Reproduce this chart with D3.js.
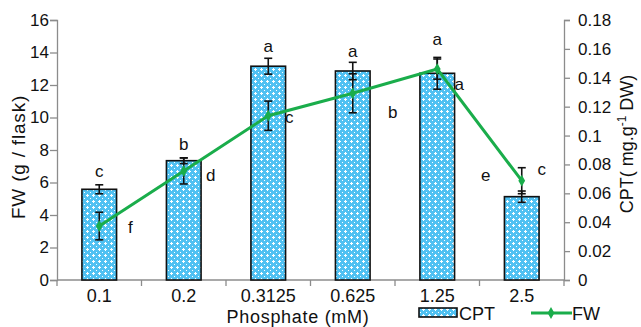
<!DOCTYPE html>
<html>
<head>
<meta charset="utf-8">
<script src="https://cdn.jsdelivr.net/npm/d3@7"></script>
<style>
  html, body { margin: 0; padding: 0; background: #fff; }
  svg { display: block; font-family: "Liberation Sans", Arial, sans-serif; }
</style>
</head>
<body>
<svg id="chart" width="641" height="327"></svg>
<script>
// Phosphate treatments (mM)
const categories = ["0.1", "0.2", "0.3125", "0.625", "1.25", "2.5"];
// CPT content (mg g-1 DW), bars, right axis
const cptValues = [0.0628, 0.0826, 0.148, 0.1447, 0.1431, 0.0577];
const cptErrors = [0.0031, 0.0020, 0.0055, 0.0060, 0.0110, 0.0039];
const cptLetters = ["c", "b", "a", "a", "a", "c"];
// Fresh weight (g / flask), line, left axis
const fwValues = [3.32, 6.71, 10.11, 11.49, 12.98, 6.11];
const fwErrors = [0.85, 0.80, 0.90, 1.20, 0.62, 0.80];
const fwLetters = ["f", "d", "c", "b", "a", "e"];
// Axis ticks
const leftTicks = [0, 2, 4, 6, 8, 10, 12, 14, 16];
const rightTicks = [0, 0.02, 0.04, 0.06, 0.08, 0.1, 0.12, 0.14, 0.16, 0.18];

const svg = d3.select("#chart");
const m = { left: 57, right: 564, top: 20, bottom: 280 };
const axisColor = "#8c8c8c";
const green = "#1aad4b";
const ink = "#111";

const x = d3.scaleBand().domain(categories).range([m.left, m.right]).paddingInner(0.59).paddingOuter(0.295);
const yL = d3.scaleLinear().domain([0, 16]).range([m.bottom, m.top]);
const yR = d3.scaleLinear().domain([0, 0.18]).range([m.bottom, m.top]);
const cx = d => x(d) + x.bandwidth() / 2;

// Bar fill: light blue with a white cross lattice
const defs = svg.append("defs");
const pat = defs.append("pattern").attr("id", "lattice")
  .attr("patternUnits", "userSpaceOnUse").attr("width", 6).attr("height", 6);
pat.append("rect").attr("width", 6).attr("height", 6).attr("fill", "#38b8f0");
pat.append("rect").attr("x", 2).attr("y", 3).attr("width", 3).attr("height", 1).attr("fill", "#ffffff");
pat.append("rect").attr("x", 3).attr("y", 2).attr("width", 1).attr("height", 3).attr("fill", "#ffffff");
pat.append("rect").attr("x", 0).attr("y", 0).attr("width", 1).attr("height", 1).attr("fill", "#ffffff");
pat.append("rect").attr("x", 0).attr("y", 0).attr("width", 6).attr("height", 6).attr("fill", "#ffffff").attr("opacity", 0.12);

// Axes
const axX = svg.append("g").attr("transform", `translate(0,${m.bottom})`);
axX.append("line").attr("x1", m.left).attr("x2", m.right).attr("stroke", axisColor).attr("stroke-width", 1.3);
const bounds = categories.map(c => x(c) - x.step() * x.paddingInner() / 2).concat([m.right]);
bounds[0] = m.left;
axX.selectAll("line.tk").data(bounds).join("line").attr("class", "tk")
  .attr("x1", d => d).attr("x2", d => d).attr("y1", 0).attr("y2", 6)
  .attr("stroke", axisColor).attr("stroke-width", 1.3);
axX.selectAll("text").data(categories).join("text")
  .attr("x", d => cx(d)).attr("y", 22).attr("text-anchor", "middle")
  .attr("font-size", 18).attr("fill", ink).text(d => d);

const axL = svg.append("g").attr("transform", `translate(${m.left},0)`)
  .call(d3.axisLeft(yL).tickValues(leftTicks).tickSize(7).tickPadding(1).tickFormat(d3.format("d")));
const axR = svg.append("g").attr("transform", `translate(${m.right},0)`)
  .call(d3.axisRight(yR).tickValues(rightTicks).tickSize(6).tickPadding(8).tickFormat(d => d === 0 ? "0" : String(+d.toFixed(2))));
[axL, axR].forEach(g => {
  g.selectAll("path.domain").attr("stroke", axisColor).attr("stroke-width", 1.3);
  g.selectAll(".tick line").attr("stroke", axisColor).attr("stroke-width", 1.3);
  g.selectAll(".tick text").attr("font-size", 17).attr("fill", ink)
    .attr("font-family", "Liberation Sans, Arial, sans-serif");
});

// Bars
svg.append("g").selectAll("rect").data(categories).join("rect")
  .attr("x", d => x(d)).attr("width", x.bandwidth())
  .attr("y", (d, i) => yR(cptValues[i]))
  .attr("height", (d, i) => yR(0) - yR(cptValues[i]))
  .attr("fill", "url(#lattice)").attr("stroke", ink).attr("stroke-width", 1.6);

// Error bar helper
function errorBars(g, yScale, vals, errs) {
  const cap = 4;
  categories.forEach((c, i) => {
    const xc = cx(c), y1 = yScale(vals[i] + errs[i]), y2 = yScale(vals[i] - errs[i]);
    g.append("line").attr("x1", xc).attr("x2", xc).attr("y1", y1).attr("y2", y2);
    g.append("line").attr("x1", xc - cap).attr("x2", xc + cap).attr("y1", y1).attr("y2", y1);
    g.append("line").attr("x1", xc - cap).attr("x2", xc + cap).attr("y1", y2).attr("y2", y2);
  });
}
const eg1 = svg.append("g").attr("stroke", ink).attr("stroke-width", 1.6);
errorBars(eg1, yR, cptValues, cptErrors);

// FW line
const line = d3.line().x((d, i) => cx(categories[i])).y(d => yL(d));
svg.append("path").datum(fwValues).attr("d", line)
  .attr("fill", "none").attr("stroke", green).attr("stroke-width", 3);
const eg2 = svg.append("g").attr("stroke", ink).attr("stroke-width", 1.6);
errorBars(eg2, yL, fwValues, fwErrors);
const diamond = d3.symbol().type(d3.symbolDiamond).size(40);
svg.append("g").selectAll("path").data(fwValues).join("path")
  .attr("d", diamond)
  .attr("transform", (d, i) => `translate(${cx(categories[i])},${yL(d)})`)
  .attr("fill", green);

// Significance letters
const lettersG = svg.append("g").attr("font-size", 17).attr("fill", ink).attr("text-anchor", "middle");
const barLetterShift = [[0, -8], [0, -8], [0, -6], [0, -5], [0, -12], [20, -16]];
categories.forEach((c, i) => {
  lettersG.append("text")
    .attr("x", cx(c) + barLetterShift[i][0])
    .attr("y", yR(cptValues[i] + cptErrors[i]) + barLetterShift[i][1])
    .text(cptLetters[i]);
});
const lineLetterShift = [[31, 7], [27, 10], [21, 7], [40, 25], [22, 21], [-36, 0]];
categories.forEach((c, i) => {
  lettersG.append("text")
    .attr("x", cx(c) + lineLetterShift[i][0])
    .attr("y", yL(fwValues[i]) + lineLetterShift[i][1])
    .text(fwLetters[i]);
});

// Axis titles
svg.append("text").attr("x", 298).attr("y", 323).attr("text-anchor", "middle")
  .attr("font-size", 18).attr("letter-spacing", 0.7).attr("fill", ink).text("Phosphate (mM)");
svg.append("text").attr("transform", "translate(25,157) rotate(-90)").attr("text-anchor", "middle")
  .attr("font-size", 19).attr("letter-spacing", 0.8).attr("fill", ink).text("FW (g / flask)");
const rt = svg.append("text").attr("transform", "translate(633,144) rotate(-90)").attr("text-anchor", "middle")
  .attr("font-size", 18).attr("fill", ink);
rt.append("tspan").text("CPT( mg.g");
rt.append("tspan").attr("dy", -7).attr("font-size", 12).text("-1");
rt.append("tspan").attr("dy", 7).text(" DW)");

// Legend
const lg = svg.append("g");
lg.append("rect").attr("x", 419).attr("y", 308).attr("width", 38).attr("height", 9)
  .attr("fill", "url(#lattice)").attr("stroke", ink).attr("stroke-width", 1.6);
lg.append("text").attr("x", 459).attr("y", 320).attr("font-size", 18).attr("fill", ink).text("CPT");
lg.append("line").attr("x1", 531).attr("x2", 572).attr("y1", 313).attr("y2", 313)
  .attr("stroke", green).attr("stroke-width", 3);
lg.append("path").attr("d", diamond).attr("transform", "translate(551,313)").attr("fill", green);
lg.append("text").attr("x", 572).attr("y", 320).attr("font-size", 18).attr("fill", ink).text("FW");
</script>
</body>
</html>
